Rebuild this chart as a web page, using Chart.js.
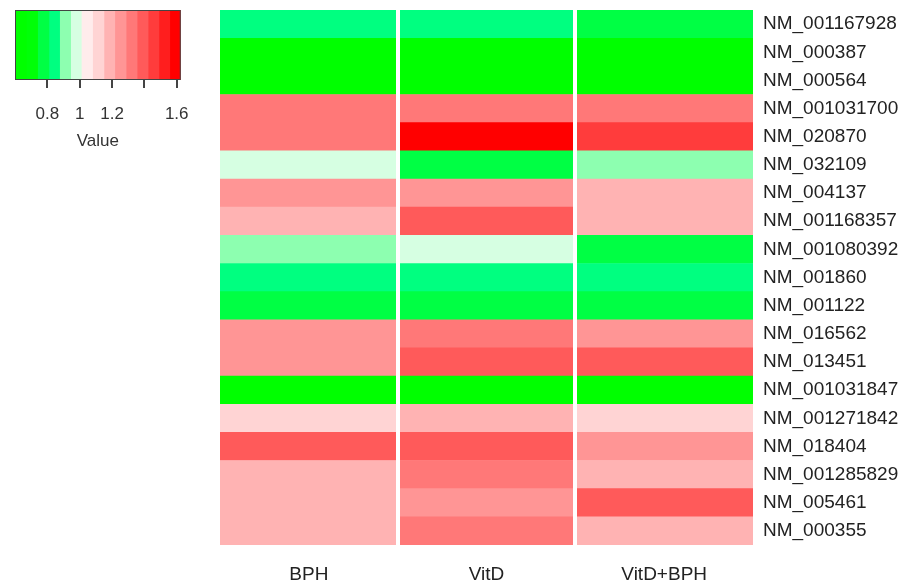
<!DOCTYPE html>
<html>
<head>
<meta charset="utf-8">
<script src="https://cdn.jsdelivr.net/npm/chart.js@4"></script>
<style>
  body { margin: 0; background: #fff; }
  #wrap { position: relative; width: 907px; height: 585px; }
  #heat { position: absolute; left: 0; top: 0; }
  #key { position: absolute; left: 0; top: 0; }
</style>
</head>
<body>
<div id="wrap">
  <canvas id="heat" width="907" height="585"></canvas>
  <canvas id="key" width="205" height="152"></canvas>
</div>
<script>
// rows (top to bottom) and columns
const genes = ['NM_001167928', 'NM_000387', 'NM_000564', 'NM_001031700', 'NM_020870',
  'NM_032109', 'NM_004137', 'NM_001168357', 'NM_001080392', 'NM_001860', 'NM_001122',
  'NM_016562', 'NM_013451', 'NM_001031847', 'NM_001271842', 'NM_018404',
  'NM_001285829', 'NM_005461', 'NM_000355'];
const conditions = ['BPH', 'VitD', 'VitD+BPH'];

// values, one array per column
const bph     = [0.84, 0.62, 0.64, 1.32, 1.32, 0.98, 1.26, 1.19, 0.92, 0.84, 0.77, 1.25, 1.26, 0.63, 1.12, 1.38, 1.18, 1.17, 1.18];
const vitd    = [0.85, 0.65, 0.61, 1.31, 1.61, 0.77, 1.25, 1.38, 0.97, 0.83, 0.78, 1.31, 1.39, 0.64, 1.19, 1.39, 1.32, 1.25, 1.33];
const vitdBph = [0.78, 0.66, 0.63, 1.33, 1.46, 0.91, 1.18, 1.17, 0.76, 0.85, 0.76, 1.24, 1.38, 0.62, 1.11, 1.26, 1.19, 1.40, 1.18];

// colour key
const keyBreaks = [0.60, 0.67, 0.74, 0.81, 0.876, 0.944, 1.01, 1.08, 1.15, 1.217, 1.287, 1.355, 1.423, 1.49, 1.557, 1.625];
const keyColors = ['#00ff00', '#00ff08', '#00ff44', '#00ff80', '#8dffb0', '#d6ffe2', '#ffecec',
  '#ffd4d4', '#ffb3b3', '#ff9595', '#ff7878', '#ff5a5a', '#ff3c3c', '#ff1e1e', '#ff0000'];
const keyTicks = [0.8, 1, 1.2, 1.4, 1.6];
const keyTickLabels = ['0.8', '1', '1.2', '', '1.6'];

Chart.defaults.font.family = '"Liberation Sans", Arial, sans-serif';
Chart.defaults.color = '#222';

function colorFor(v) {
  for (let i = 0; i < keyColors.length; i++) {
    if (v < keyBreaks[i + 1]) return keyColors[i];
  }
  return keyColors[keyColors.length - 1];
}

const series = [bph, vitd, vitdBph];

new Chart(document.getElementById('heat'), {
  type: 'bar',
  data: {
    labels: genes,
    datasets: conditions.map((c, i) => ({
      label: c,
      data: genes.map(() => 1),
      backgroundColor: series[i].map(colorFor),
      borderWidth: 0,
      barPercentage: 1,
      categoryPercentage: 1
    }))
  },
  options: {
    indexAxis: 'y',
    responsive: false,
    animation: false,
    events: [],
    layout: { padding: { left: 220, top: 0, right: 0, bottom: 0 } },
    plugins: { legend: { display: false }, tooltip: { enabled: false } },
    scales: {
      x: {
        type: 'linear',
        stacked: true,
        min: 0,
        max: 3,
        grid: { display: false },
        border: { display: false },
        afterBuildTicks: s => { s.ticks = [0.5, 1.5, 2.5].map(v => ({ value: v })); },
        afterFit: s => { s.height = 40; },
        ticks: {
          padding: 10,
          font: { size: 19 },
          maxRotation: 0,
          callback: v => conditions[Math.round(v - 0.5)]
        }
      },
      // white separators between the columns, drawn over the cells
      sep: {
        type: 'linear',
        axis: 'x',
        position: 'bottom',
        min: 0,
        max: 3,
        grid: { color: '#ffffff', lineWidth: 4, drawTicks: false, z: 1 },
        border: { display: false },
        ticks: { display: false },
        afterBuildTicks: s => { s.ticks = [1, 2].map(v => ({ value: v })); },
        afterFit: s => { s.height = 0; }
      },
      y: {
        position: 'right',
        stacked: true,
        grid: { display: false },
        border: { display: false },
        afterFit: s => { s.width = 154; },
        ticks: { padding: 2, font: { size: 19, lineHeight: 0.85 }, autoSkip: false }
      }
    }
  }
});

const keyBox = {
  id: 'keyBox',
  afterDatasetsDraw(chart) {
    const a = chart.chartArea;
    const ctx = chart.ctx;
    ctx.save();
    ctx.strokeStyle = '#444';
    ctx.lineWidth = 1;
    ctx.strokeRect(a.left + 0.5, a.top + 0.5, a.right - a.left - 1, a.bottom - a.top - 1);
    ctx.restore();
  }
};

new Chart(document.getElementById('key'), {
  type: 'bar',
  data: {
    labels: ['Value'],
    datasets: keyColors.map((col, i) => ({
      data: [[keyBreaks[i], keyBreaks[i + 1]]],
      backgroundColor: col,
      borderWidth: 0,
      grouped: false,
      barPercentage: 1,
      categoryPercentage: 1
    }))
  },
  options: {
    indexAxis: 'y',
    responsive: false,
    animation: false,
    events: [],
    layout: { padding: { left: 15, right: 19, top: 10, bottom: 0 } },
    plugins: { legend: { display: false }, tooltip: { enabled: false } },
    scales: {
      y: { display: false },
      x: {
        type: 'linear',
        min: keyBreaks[0],
        max: keyBreaks[keyBreaks.length - 1],
        grid: { drawOnChartArea: false, drawTicks: true, tickLength: 8, tickColor: '#444', lineWidth: 2 },
        border: { display: false },
        afterBuildTicks: s => { s.ticks = keyTicks.map(v => ({ value: v })); },
        afterFit: s => { s.height = 72; },
        ticks: {
          padding: 16,
          font: { size: 17 },
          color: '#333',
          maxRotation: 0,
          callback: (v, i) => keyTickLabels[i]
        },
        title: { display: true, text: 'Value', font: { size: 17 }, color: '#333', padding: { top: 4, bottom: 0 } }
      }
    }
  },
  plugins: [keyBox]
});
</script>
</body>
</html>
